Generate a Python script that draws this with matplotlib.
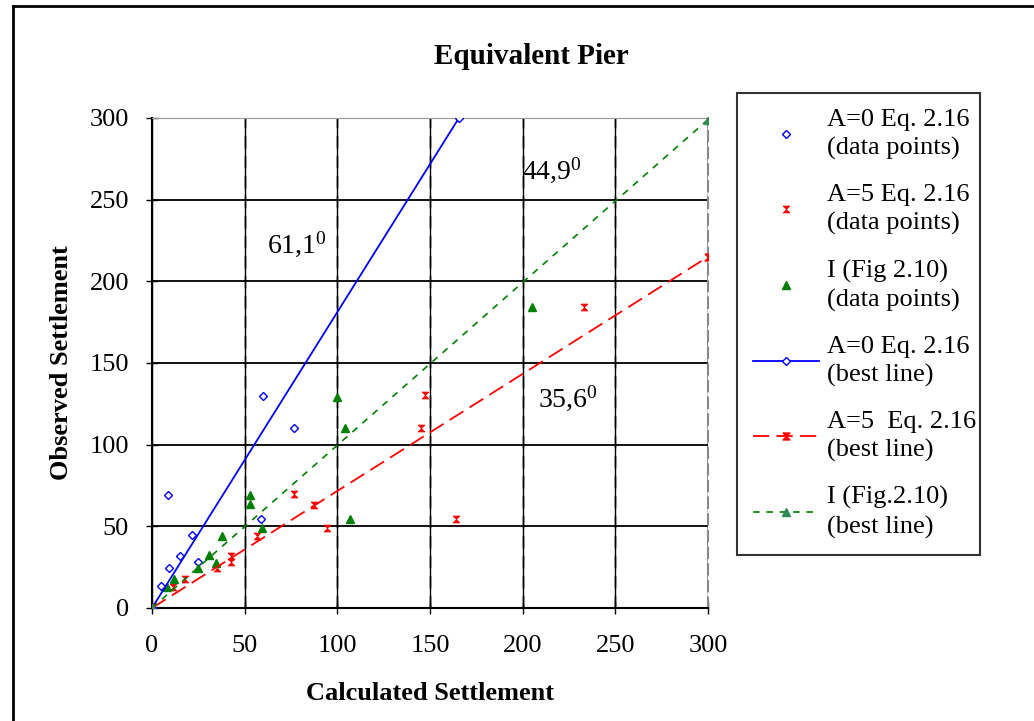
import matplotlib
matplotlib.use("Agg")
import matplotlib.pyplot as plt
from matplotlib.lines import Line2D

plt.rcParams["font.family"] = "Liberation Serif"
plt.rcParams["mathtext.fontset"] = "custom"
plt.rcParams["mathtext.rm"] = "Liberation Serif"
plt.rcParams["mathtext.it"] = "Liberation Serif"

# data points
blue_x = [0, 5, 9.4, 15, 21.4, 25, 8.8, 59, 60, 76.6]
blue_y = [0, 13.5, 24.7, 32, 44.7, 28.4, 69, 54.3, 130, 110]

red_x = [11.5, 17.8, 34.9, 42.5, 42.5, 56.5, 76.6, 87.3, 94.2, 145.2, 147.3, 163.9, 233]
red_y = [13, 17.6, 24.3, 28.4, 32, 44.3, 69.6, 63, 49.2, 110, 130.2, 54.3, 184]

green_x = [7.9, 12, 25, 31, 34.5, 38, 52.9, 52.9, 59.2, 100, 104, 106.9, 205]
green_y = [13, 17.6, 24.3, 32.4, 27.4, 44, 69.2, 63.5, 49.2, 129.4, 110, 54.5, 184]

# best lines (end points)
blue_line_x = [0, 165.6]
blue_line_y = [0, 300]
red_line_x = [0, 300]
red_line_y = [0, 215]
green_line_x = [0, 300]
green_line_y = [0, 299]

# angle notes
angle_labels = ["61,1$^0$", "44,9$^0$", "35,6$^0$"]
angle_x = [78, 216, 224.5]
angle_y = [223, 268, 128.6]

ticks = [0, 50, 100, 150, 200, 250, 300]

BLUE = "#0000ff"
RED = "#ff0000"
GREEN = "#008000"
hourglass = [(-1, 1), (1, 1), (-1, -1), (1, -1), (-1, 1)]

fig = plt.figure(figsize=(10.34, 7.21), dpi=100)
ax = fig.add_axes([152 / 1034, 1 - 608 / 721, 556 / 1034, 490 / 721])

# grid
ax.set_xlim(0, 300)
ax.set_ylim(0, 300)
ax.set_xticks(ticks)
ax.set_yticks(ticks)
ax.grid(axis="y", color="black", lw=1.3, zorder=0)
ax.grid(axis="x", color="black", lw=1.0, zorder=0)
for t in ax.get_xticks()[1:]:
    ax.axvline(t, color="#777777", lw=1.8, ls=(0, (5, 3)), alpha=0.7, zorder=0)

# data points
ax.plot(blue_x, blue_y, ls="none", marker="D", ms=4.5, mfc="white",
        mec=BLUE, mew=1.0, zorder=3,
        label="A=0 Eq. 2.16\n(data points)")
ax.plot(red_x, red_y, ls="none", marker=hourglass, ms=5, mfc=RED,
        mec=RED, mew=0.5, zorder=3,
        label="A=5 Eq. 2.16\n(data points)")
ax.plot(green_x, green_y, ls="none", marker="^", ms=6, mfc=GREEN,
        mec=GREEN, zorder=3,
        label="I (Fig 2.10)\n(data points)")

# best lines
ax.plot(blue_line_x, blue_line_y, color=BLUE, lw=1.3, marker="D", ms=4.5,
        mfc="white", mec=BLUE, zorder=4,
        label="A=0 Eq. 2.16\n(best line)")
ax.plot(red_line_x, red_line_y, color=RED, lw=1.3, ls=(0, (9, 4)),
        marker=hourglass, ms=5, mfc=RED, mec=RED, zorder=4,
        label="A=5  Eq. 2.16\n(best line)")
ax.plot(green_line_x, green_line_y, color=GREEN, lw=1.2, ls=(0, (4, 4)),
        marker="^", ms=6, mfc="#2e8b57", mec="#2e8b57", zorder=4,
        label="I (Fig.2.10)\n(best line)")

for lab, x, y in zip(angle_labels, angle_x, angle_y):
    ax.text(x, y, lab, fontsize=20, ha="center", va="center")

# axes styling
for side in ["left", "bottom"]:
    ax.spines[side].set_color("black")
    ax.spines[side].set_linewidth(1.5)
ax.spines["top"].set_color("#999999")
ax.spines["right"].set_color("#888888")
ax.spines["right"].set_linestyle((0, (5, 3)))
ax.spines["right"].set_linewidth(1.5)
ax.tick_params(direction="inout", length=9, width=1.0, labelsize=19,
               color="black")
ax.tick_params(axis="x", pad=15)
ax.tick_params(axis="y", pad=12)

fig.text(531 / 1034, 1 - 56 / 721, "Equivalent Pier", fontsize=21,
         fontweight="bold", ha="center", va="center")
ax.set_xlabel("Calculated Settlement", fontsize=19, fontweight="bold",
              labelpad=18)
ax.set_ylabel("Observed Settlement", fontsize=19, fontweight="bold",
              labelpad=12)

leg = fig.legend(loc="upper left",
                 bbox_to_anchor=(737 / 1034, 1 - 555 / 721,
                                 243 / 1034, (555 - 93) / 721),
                 mode="expand", borderaxespad=0, fontsize=19, numpoints=1,
                 handlelength=2.5, handletextpad=0.3, borderpad=0.6,
                 labelspacing=0.91, fancybox=False, frameon=True)
for txt in leg.get_texts():
    txt.set_linespacing(1.35)
leg.get_frame().set_edgecolor("black")
leg.get_frame().set_linewidth(1.5)

# outer chart frame (left and top edges visible)
fig.add_artist(Line2D([13 / 1034, 13 / 1034], [0, 1 - 6 / 721],
                      transform=fig.transFigure, color="black", lw=2))
fig.add_artist(Line2D([13 / 1034, 1], [1 - 6 / 721, 1 - 6 / 721],
                      transform=fig.transFigure, color="black", lw=2))

fig.savefig("out.png", dpi=100)
